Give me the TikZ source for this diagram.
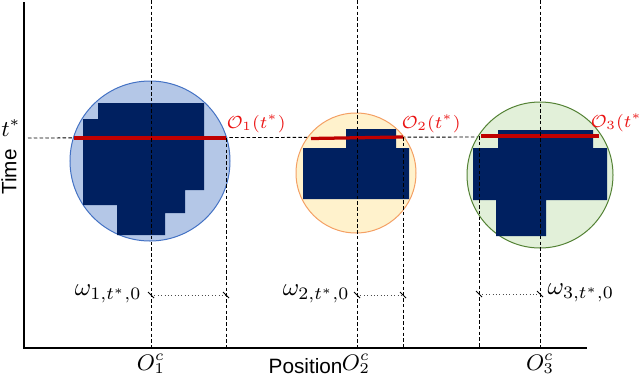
\documentclass[tikz,border=0pt]{standalone}
\usepackage{amsmath, amssymb}
\usepackage{fontspec}
\newfontfamily\axisfont{Liberation Sans}
\usepackage{tikz}
\usetikzlibrary{positioning, calc}
\definecolor{navyblob}{RGB}{0, 32, 96}
\definecolor{cutred}{RGB}{192, 0, 0}
\definecolor{labelred}{RGB}{235, 20, 20}
\definecolor{zoneblue}{RGB}{180, 199, 231}
\definecolor{edgeblue}{RGB}{68, 114, 196}
\definecolor{zoneorange}{RGB}{255, 242, 204}
\definecolor{edgeorange}{RGB}{244, 160, 100}
\definecolor{zonegreen}{RGB}{226, 240, 217}
\definecolor{edgegreen}{RGB}{84, 130, 53}

\begin{document}
\begin{tikzpicture}[x=0.4pt, y=-0.4pt,
				axis/.style={line width=0.6pt},
				guide/.style={line width=0.35pt, dash pattern=on 1.4pt off 0.9pt},
				span/.style={gray!60!black, line width=0.35pt, densely dotted},
				spantick/.style={line width=0.35pt},
				cut/.style={cutred, line width=1.3pt},
				blob/.style={fill=navyblob, draw=none},
				axislabel/.style={font=\axisfont\fontsize{8.3}{9}\selectfont, inner sep=0pt},
				redlabel/.style={text=labelred, inner sep=0pt, font=\fontsize{7.4}{9}\selectfont},
				wlabel/.style={inner sep=0pt, font=\fontsize{10.1}{12}\selectfont},
				centerlabel/.style={inner sep=0pt, font=\fontsize{9}{10}\selectfont}
			]
			\useasboundingbox (0,0) rectangle (640,374);

			% Axes corners
			\coordinate (orig) at (24,348);
			\coordinate (ytop) at (24,2);
			\coordinate (xend) at (587,348);

			% Level t*
			\coordinate (tstar) at (28,138);
			\coordinate (tend) at (480,137);
			\draw[guide] (tstar) -- (tend);

			% Zones
			\fill[zoneblue, draw=edgeblue, line width=0.4pt] (150,161) coordinate (c1) circle[radius=32pt];
			\fill[zoneorange, draw=edgeorange, line width=0.4pt] (356,173) coordinate (c2) circle[radius=24pt];
			\fill[zonegreen, draw=edgegreen, line width=0.4pt] (540,175) coordinate (c3) circle[radius=29.2pt];

			% Occupied cells
			\fill[blob] (98,103) -- (204,103) -- (204,190) -- (185,190) -- (185,213) -- (165,213) -- (165,235)
				-- (117,235) -- (117,205) -- (83,205) -- (83,119) -- (98,119) -- cycle;
			\fill[blob] (346,129) -- (396,129) -- (396,148) -- (409,148) -- (409,199) -- (303,199) -- (303,148)
				-- (346,148) -- cycle;
			\fill[blob] (498,130) -- (593,130) -- (593,148) -- (607,148) -- (607,200) -- (546,200) -- (546,236)
				-- (496,236) -- (496,200) -- (473,200) -- (473,148) -- (498,148) -- cycle;

			% Cuts at t*
			\coordinate (a1) at (74,138);  \coordinate (b1) at (226,138);
			\coordinate (a2) at (311,138.5); \coordinate (b2) at (403,137);
			\coordinate (a3) at (481,136); \coordinate (b3) at (599,136);
			\draw[cut] (a1) -- (b1);
			\draw[cut] (a2) -- (b2);
			\draw[cut] (a3) -- (b3);

			% Guides
			\coordinate (g1) at (151,348); \coordinate (g2) at (357,348); \coordinate (g3) at (540,348);
			\coordinate (e1) at (226,348); \coordinate (e2) at (403,348); \coordinate (e3) at (479,348);
			\draw[guide] (151,0) -- (g1);
			\draw[guide] (357,0) -- (g2);
			\draw[guide] (540,0) -- (g3);
			\draw[guide] (b1) -- (e1);
			\draw[guide] (b2) -- (e2);
			\draw[guide] (479,136) -- (e3);

			% Spans
			\coordinate (w1a) at (151,295); \coordinate (w1b) at (226,295);
			\coordinate (w2a) at (357,295); \coordinate (w2b) at (403,295);
			\coordinate (w3a) at (479,294); \coordinate (w3b) at (540,294);
			\draw[span] (w1a) -- (w1b);
			\draw[span] (w2a) -- (w2b);
			\draw[span] (w3a) -- (w3b);
			\draw[spantick, shift={(w1a)}] (-3,-3) -- (3,3);
			\draw[spantick, shift={(w1b)}] (-3,-3) -- (3,3);
			\draw[spantick, shift={(w2a)}] (-3,-3) -- (3,3);
			\draw[spantick, shift={(w2b)}] (-3,-3) -- (3,3);
			\draw[spantick, shift={(w3a)}] (-3,-3) -- (3,3);
			\draw[spantick, shift={(w3b)}] (-3,-3) -- (3,3);

			% Axes
			\draw[axis] (ytop) -- (orig) -- (xend);

			% Labels
			\node[axislabel, rotate=90] (time) at (9,172) {Time};
			\node[axislabel, anchor=east] (pos) at (343,366) {Position};
			\node[anchor=base east, inner sep=0pt, font=\fontsize{9}{10}\selectfont] (tlabel) at (21,136) {$t^*$};
			\node[redlabel, anchor=base west] (o1) at (226,128) {$\mathcal{O}_1(t^*)$};
			\node[redlabel, anchor=base west] (o2) at (401,128) {$\mathcal{O}_2(t^*)$};
			\node[redlabel, anchor=base west] (o3) at (590,127) {$\mathcal{O}_3(t^*)$};
			\node[wlabel, anchor=east] (w1) at (142,294) {$\omega_{1,t^*,0}$};
			\node[wlabel, anchor=east] (w2) at (350,294) {$\omega_{2,t^*,0}$};
			\node[wlabel, anchor=west] (w3) at (547,293) {$\omega_{3,t^*,0}$};
			\node[centerlabel] (oc1) at (151,364) {$O_1^c$};
			\node[centerlabel] (oc2) at (356,364) {$O_2^c$};
			\node[centerlabel] (oc3) at (540,364) {$O_3^c$};

		\end{tikzpicture}
\end{document}
